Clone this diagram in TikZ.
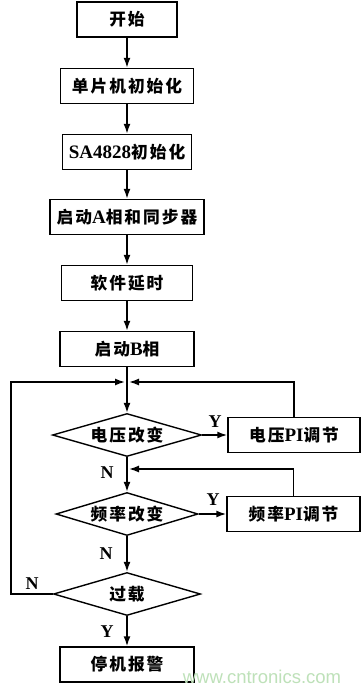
\documentclass[tikz,border=0pt]{standalone}
\usepackage{fontspec}
\setmainfont{Liberation Serif}
\newfontfamily\cjk[Scale=0.88,LetterSpace=12]{Noto Sans CJK SC}
\setsansfont{Liberation Sans}
\usetikzlibrary{shapes.geometric,arrows.meta}
\newcommand{\zh}[1]{{\cjk #1}}
\begin{document}
\begin{tikzpicture}[x=1pt,y=-1pt,
  stepbox/.style={draw, line width=1.5pt, minimum height=35pt, inner sep=0pt,
    font=\bfseries\fontsize{19}{19}\selectfont},
  dia/.style={draw, diamond, aspect=3.4, line width=1.4pt, inner sep=0pt,
    minimum height=43pt, font=\bfseries\fontsize{19}{19}\selectfont},
  ln/.style={line width=1.5pt},
  arr/.style={line width=1.5pt, -{Latex[length=10pt,width=7pt]}},
  lbl/.style={font=\bfseries\fontsize{18}{18}\selectfont, inner sep=0pt}]
\useasboundingbox (0,0) rectangle (364,691);
\fill[white] (0,0) rectangle (364,691);
% main column
\node[stepbox, minimum width=100pt] (b1) at (127,19.5) {\zh{开始}};
\node[stepbox, minimum width=133pt] (b2) at (127,86) {\zh{单片机初始化}};
\node[stepbox, minimum width=129pt] (b3) at (127,152) {SA4828\zh{初始化}};
\node[stepbox, minimum width=154pt] (b4) at (127,217) {\zh{启动}A\zh{相和同步器}};
\node[stepbox, minimum width=131pt] (b5) at (127,283) {\zh{软件延时}};
\node[stepbox, minimum width=134pt] (b6) at (127,349) {\zh{启动}B\zh{相}};
\coordinate (j1) at (127,382);
\node[dia, minimum width=149pt] (d1) at (127,435) {\zh{电压改变}};
\node[stepbox, minimum width=132pt] (p1) at (294,435) {\zh{电压}PI\zh{调节}};
\coordinate (j2) at (127,469);
\node[dia, minimum width=142pt] (d2) at (127,514) {\zh{频率改变}};
\node[stepbox, minimum width=133pt] (p2) at (293.5,514) {\zh{频率}PI\zh{调节}};
\node[dia, minimum width=147pt] (d3) at (127,594) {\zh{过载}};
\coordinate (lx) at (11,594);
\node[stepbox, minimum width=134pt] (b7) at (127,664.5) {\zh{停机报警}};
% connectors
\draw[arr] (b1) -- (b2);
\draw[arr] (b2) -- (b3);
\draw[arr] (b3) -- (b4);
\draw[arr] (b4) -- (b5);
\draw[arr] (b5) -- (b6);
\draw[ln] (b6) -- (j1);
\draw[arr] (j1) -- (d1);
\draw[arr] (d1) -- (p1);
\draw[arr, shorten >=2pt] (p1.north) |- (j1);
\draw[ln] (d1) -- (j2);
\draw[arr] (j2) -- (d2);
\draw[arr] (d2) -- (p2);
\draw[arr, shorten >=2pt] (p2.north) |- (j2);
\draw[arr] (d2) -- (d3);
\draw[arr, shorten >=2pt] (d3.west) -- (lx) |- (j1);
\draw[arr] (d3) -- (b7);
% labels
\node[lbl] (y1) at (215,422) {Y};
\node[lbl] (n1) at (107,473) {N};
\node[lbl] (y2) at (213,500) {Y};
\node[lbl] (n2) at (106,554) {N};
\node[lbl] (n3) at (32,584) {N};
\node[lbl] (y3) at (107,632) {Y};
\node[font=\sffamily\fontsize{18.5}{18.5}\selectfont, text={rgb,255:red,190;green,225;blue,185}, inner sep=0pt] (wm) at (262,677) {www.cntronics.com};
\end{tikzpicture}
\end{document}
